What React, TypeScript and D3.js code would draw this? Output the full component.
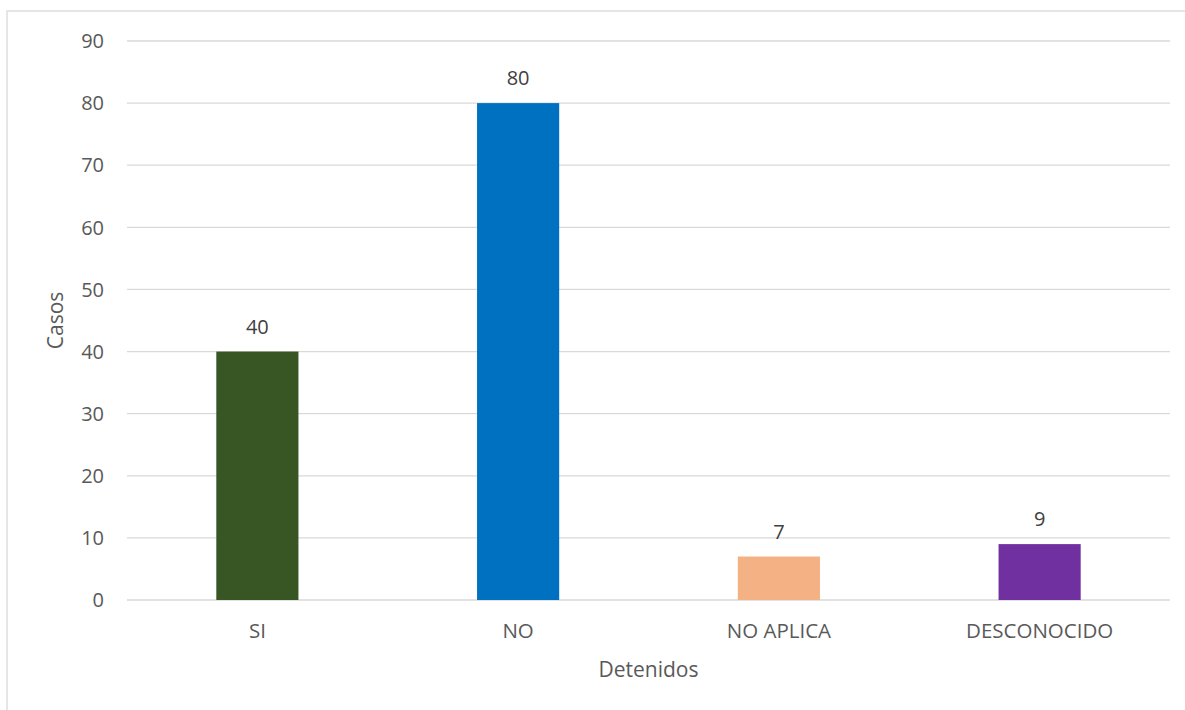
import React from "react";
import * as d3 from "d3";

const categories = ["SI", "NO", "NO APLICA", "DESCONOCIDO"];
const values = [40, 80, 7, 9];
const colors = ["#375623", "#0070C0", "#F4B183", "#7030A0"];
const yTicks = [0, 10, 20, 30, 40, 50, 60, 70, 80, 90];
const xTitle = "Detenidos";
const yTitle = "Casos";

export default function App() {
  const W = 1185, H = 710;
  const left = 127, right = 1170, top = 41, bottom = 600;
  const x = d3.scaleBand<string>().domain(categories).range([left, right]).paddingInner(0.685).paddingOuter(0.3425);
  const y = d3.scaleLinear().domain([0, 90]).range([bottom, top]);
  const font = "'Open Sans', sans-serif";
  const tc = "#595959";
  return (
    <svg width={W} height={H} style={{ position: "absolute", left: 0, top: 0 }} fontFamily={font}>
      <rect x={0} y={0} width={W} height={H} fill="#fff" />
      <rect x={7} y={11} width={W} height={H} fill="none" stroke="#d9d9d9" strokeWidth={1.3} />
      {yTicks.map((t) => (
        <g key={t}>
          <line x1={left} x2={right} y1={y(t)} y2={y(t)} stroke="#d9d9d9" strokeWidth={1.3} />
          <text x={104} y={y(t)} dy="0.36em" textAnchor="end" fontSize={20} fill={tc}>{t}</text>
        </g>
      ))}
      {categories.map((c, i) => (
        <g key={c}>
          <rect x={x(c)} y={y(values[i])} width={x.bandwidth()} height={bottom - y(values[i])} fill={colors[i]} />
          <text x={(x(c) as number) + x.bandwidth() / 2} y={y(values[i]) - 18} textAnchor="middle" fontSize={20} fill="#404040">{values[i]}</text>
          <text x={(x(c) as number) + x.bandwidth() / 2} y={638} textAnchor="middle" fontSize={20.5} fill={tc}>{c}</text>
        </g>
      ))}
      <text x={(left + right) / 2} y={677} textAnchor="middle" fontSize={21} fill={tc}>{xTitle}</text>
      <text transform={`translate(63, ${(top + bottom) / 2}) rotate(-90)`} textAnchor="middle" fontSize={21} fill={tc}>{yTitle}</text>
    </svg>
  );
}
